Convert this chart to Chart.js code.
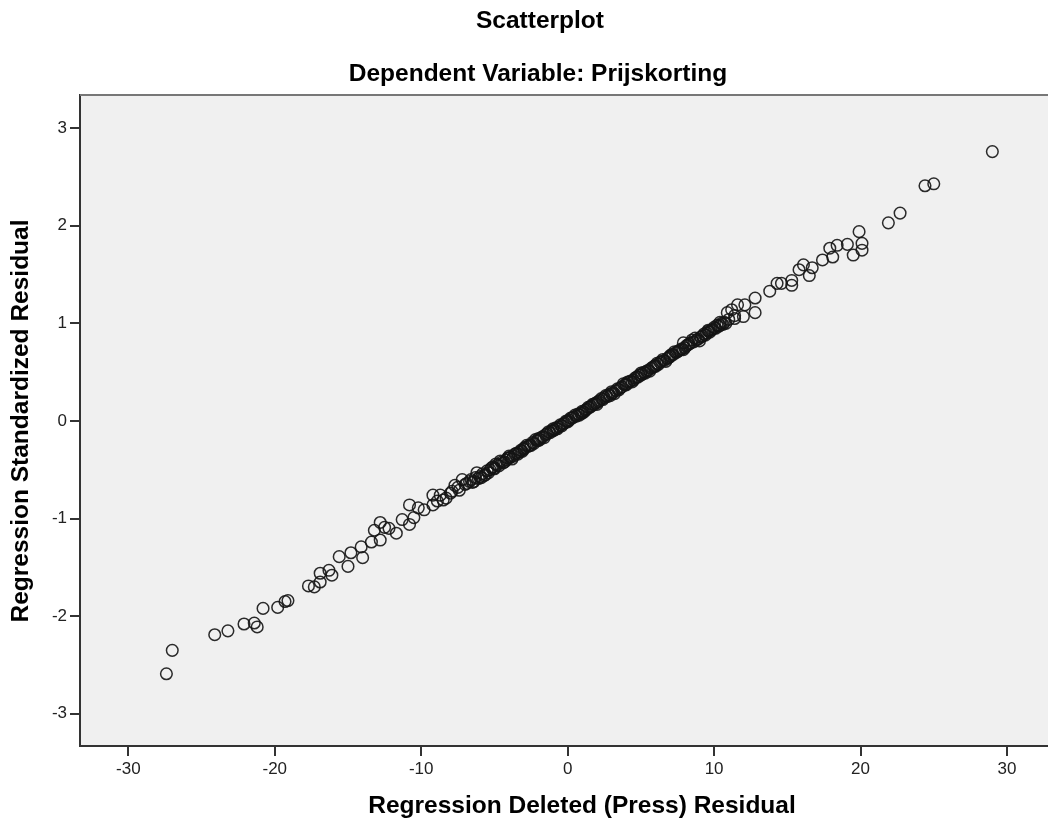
<!DOCTYPE html>
<html>
<head>
<meta charset="utf-8">
<script src="https://cdn.jsdelivr.net/npm/chart.js@4.4.1/dist/chart.umd.min.js"></script>
<style>
html,body{margin:0;padding:0;background:#fff;}
#wrap{width:1048px;height:831px;position:relative;}
</style>
</head>
<body>
<div id="wrap"><canvas id="c" width="1048" height="831"></canvas></div>
<script>
const chartTitle = 'Scatterplot';
const chartSubtitle = 'Dependent Variable: Prijskorting';
const xAxisTitle = 'Regression Deleted (Press) Residual';
const yAxisTitle = 'Regression Standardized Residual';
const xTicks = [-30, -20, -10, 0, 10, 20, 30];
const yTicks = [-3, -2, -1, 0, 1, 2, 3];

// Lower tail (press residual, standardized residual)
const lowerX = [-27.4,-27.0,-24.1,-23.2,-22.1,-21.4,-21.2,-20.8,-19.8,-19.3,-19.1,-17.7,-17.3,-16.9,-16.9,-16.3,-16.1,-15.6,-15.0,-14.8,-14.1,-14.0,-13.4,-13.2,-12.8,-12.8,-12.5,-12.2,-11.7,-11.3,-10.8,-10.8,-10.5,-10.2,-9.8,-9.2,-9.2,-8.7,-8.3,-8.0,-7.7,-7.5,-7.2,-6.9,-6.7,-6.6,-6.2];
const lowerY = [-2.59,-2.35,-2.19,-2.15,-2.08,-2.07,-2.11,-1.92,-1.91,-1.85,-1.84,-1.69,-1.70,-1.56,-1.65,-1.53,-1.58,-1.39,-1.49,-1.35,-1.29,-1.40,-1.24,-1.12,-1.04,-1.22,-1.09,-1.10,-1.15,-1.01,-0.86,-1.06,-0.99,-0.89,-0.91,-0.86,-0.76,-0.76,-0.79,-0.74,-0.66,-0.68,-0.60,-0.64,-0.62,-0.60,-0.53];

// Dense core
const coreX = [-6.0,-5.9,-5.8,-5.6,-5.5,-5.3,-5.2,-5.1,-5.0,-4.8,-4.7,-4.6,-4.5,-4.4,-4.2,-4.1,-4.0,-3.9,-3.8,-3.6,-3.5,-3.4,-3.3,-3.2,-3.0,-2.9,-2.8,-2.7,-2.6,-2.4,-2.3,-2.2,-2.1,-2.0,-1.8,-1.7,-1.6,-1.5,-1.4,-1.2,-1.1,-1.0,-0.9,-0.8,-0.6,-0.5,-0.4,-0.3,-0.2,0.0,0.1,0.2,0.3,0.4,0.6,0.7,0.8,0.9,1.0,1.2,1.3,1.4,1.5,1.6,1.8,1.9,2.0,2.1,2.2,2.4,2.5,2.6,2.7,2.8,3.0,3.1,3.2,3.3,3.4,3.6,3.7,3.8,3.9,4.0,4.2,4.3,4.4,4.5,4.6,4.8,4.9,5.0,5.1,5.2,5.4,5.5,5.6,5.7,5.8,6.0,6.1,6.2,6.4,6.6,6.7,6.8,7.0,7.2,7.3,7.4,7.6,7.8,7.9,8.0,8.3,8.5,8.6,8.9,9.0,9.2,9.5,9.6,9.8,10.1,10.2,10.4,10.7,10.8,11.0,11.4];
const coreY = [-0.57,-0.58,-0.54,-0.55,-0.51,-0.50,-0.48,-0.47,-0.49,-0.45,-0.46,-0.41,-0.42,-0.43,-0.40,-0.38,-0.36,-0.37,-0.39,-0.34,-0.33,-0.34,-0.32,-0.30,-0.29,-0.27,-0.25,-0.26,-0.25,-0.22,-0.23,-0.19,-0.20,-0.18,-0.17,-0.16,-0.17,-0.14,-0.13,-0.12,-0.10,-0.08,-0.09,-0.07,-0.06,-0.04,-0.05,-0.03,-0.02,0.00,0.01,0.03,0.03,0.04,0.05,0.07,0.06,0.08,0.10,0.11,0.12,0.14,0.14,0.15,0.17,0.18,0.17,0.20,0.21,0.22,0.24,0.26,0.25,0.27,0.28,0.29,0.28,0.31,0.33,0.34,0.35,0.38,0.37,0.38,0.40,0.41,0.40,0.42,0.44,0.45,0.47,0.49,0.48,0.50,0.51,0.52,0.51,0.54,0.55,0.57,0.59,0.58,0.61,0.62,0.61,0.64,0.66,0.68,0.71,0.70,0.72,0.74,0.73,0.75,0.79,0.83,0.81,0.84,0.82,0.87,0.90,0.92,0.93,0.95,0.98,0.98,1.01,1.00,1.04,1.08];

// Additional overlapping points in the dense band
const bandX = [-8.9,-8.5,-7.9,-7.4,-7.0,-6.5,-6.4,-6.3,-6.1,-5.7,-5.4,-5.0,-4.9,-4.3,-4.0,-3.7,-3.1,-3.0,-2.5,-2.0,-1.9,-1.3,-1.0,-0.7,-0.1,0.0,0.5,1.0,1.1,1.7,2.0,2.3,2.9,3.0,3.5,4.0,4.1,4.7,5.0,5.3,5.9,6.0,6.3,6.5,6.9,7.0,7.1,7.5,7.7,8.1,8.2,8.4,8.8,9.1,9.3,9.4,9.7,9.9,10.3,10.5,10.6];
const bandY = [-0.82,-0.81,-0.72,-0.71,-0.65,-0.63,-0.62,-0.58,-0.59,-0.56,-0.53,-0.48,-0.44,-0.42,-0.38,-0.36,-0.31,-0.28,-0.25,-0.20,-0.19,-0.11,-0.10,-0.08,0.00,-0.01,0.06,0.08,0.09,0.17,0.19,0.23,0.26,0.30,0.32,0.37,0.40,0.45,0.47,0.49,0.56,0.56,0.60,0.63,0.65,0.67,0.68,0.71,0.73,0.77,0.78,0.80,0.83,0.86,0.89,0.88,0.91,0.94,0.97,1.00,0.99];

// Upper tail
const upperX = [7.9,8.7,9.6,10.0,10.4,10.9,11.2,11.4,11.6,12.0,12.1,12.8,12.8,13.8,14.3,14.6,15.3,15.3,15.8,16.1,16.5,16.7,17.4,17.9,18.1,18.4,19.1,19.5,19.9,20.1,20.1,21.9,22.7,24.4,25.0,29.0];
const upperY = [0.80,0.85,0.93,0.96,1.01,1.11,1.14,1.05,1.19,1.07,1.19,1.26,1.11,1.33,1.41,1.41,1.44,1.39,1.55,1.60,1.49,1.57,1.65,1.77,1.68,1.80,1.81,1.70,1.94,1.82,1.75,2.03,2.13,2.41,2.43,2.76];

const allX = lowerX.concat(coreX, bandX, upperX);
const allY = lowerY.concat(coreY, bandY, upperY);
const points = allX.map((x, i) => ({x: x, y: allY[i]}));

const FONT = "'Liberation Sans', Arial, sans-serif";

const framePlugin = {
  id: 'frame',
  beforeDraw(chart) {
    const {ctx, chartArea: a} = chart;
    ctx.save();
    ctx.fillStyle = '#f0f0f0';
    ctx.fillRect(a.left, a.top, a.right - a.left, a.bottom - a.top);
    ctx.restore();
  },
  afterDraw(chart) {
    const {ctx, chartArea: a} = chart;
    ctx.save();
    ctx.strokeStyle = '#777';
    ctx.lineWidth = 2;
    ctx.beginPath();
    ctx.moveTo(a.left, a.top);
    ctx.lineTo(a.right, a.top);
    ctx.stroke();
    ctx.fillStyle = '#000';
    ctx.textAlign = 'center';
    ctx.textBaseline = 'middle';
    ctx.font = 'bold 24.5px ' + FONT;
    ctx.fillText(chartTitle, 540, 21);
    ctx.fillText(chartSubtitle, 538, 74);
    ctx.fillText(xAxisTitle, 582, 806);
    ctx.translate(21, 421);
    ctx.rotate(-Math.PI / 2);
    ctx.fillText(yAxisTitle, 0, 0);
    ctx.restore();
  }
};

new Chart(document.getElementById('c'), {
  type: 'scatter',
  data: {
    datasets: [{
      data: points,
      pointStyle: 'circle',
      pointRadius: 5.8,
      pointHoverRadius: 5.8,
      pointBorderWidth: 1.5,
      borderColor: 'rgba(20,20,20,0.9)',
      backgroundColor: 'rgba(0,0,0,0)'
    }]
  },
  options: {
    responsive: false,
    animation: false,
    events: [],
    layout: {autoPadding: false, padding: {top: 95, right: 0, left: 0, bottom: 0}},
    plugins: {legend: {display: false}, tooltip: {enabled: false}},
    scales: {
      x: {
        type: 'linear',
        min: -33.3,
        max: 32.8,
        afterFit(s) { s.height = 85; s.paddingRight = 0; s.paddingLeft = 0; },
        afterBuildTicks(s) { s.ticks = xTicks.map(v => ({value: v})); },
        grid: {drawOnChartArea: false, drawTicks: true, tickLength: 10, color: '#333', lineWidth: 2},
        border: {display: true, color: '#333', width: 2},
        ticks: {color: '#222', font: {family: FONT, size: 17}, padding: 3, maxRotation: 0, includeBounds: false}
      },
      y: {
        type: 'linear',
        min: -3.33,
        max: 3.34,
        afterFit(s) { s.width = 80; s.paddingTop = 0; s.paddingBottom = 0; },
        afterBuildTicks(s) { s.ticks = yTicks.map(v => ({value: v})); },
        grid: {drawOnChartArea: false, drawTicks: true, tickLength: 10, color: '#333', lineWidth: 2},
        border: {display: true, color: '#333', width: 2},
        ticks: {color: '#222', font: {family: FONT, size: 17}, padding: 3, includeBounds: false}
      }
    }
  },
  plugins: [framePlugin]
});
</script>
</body>
</html>
